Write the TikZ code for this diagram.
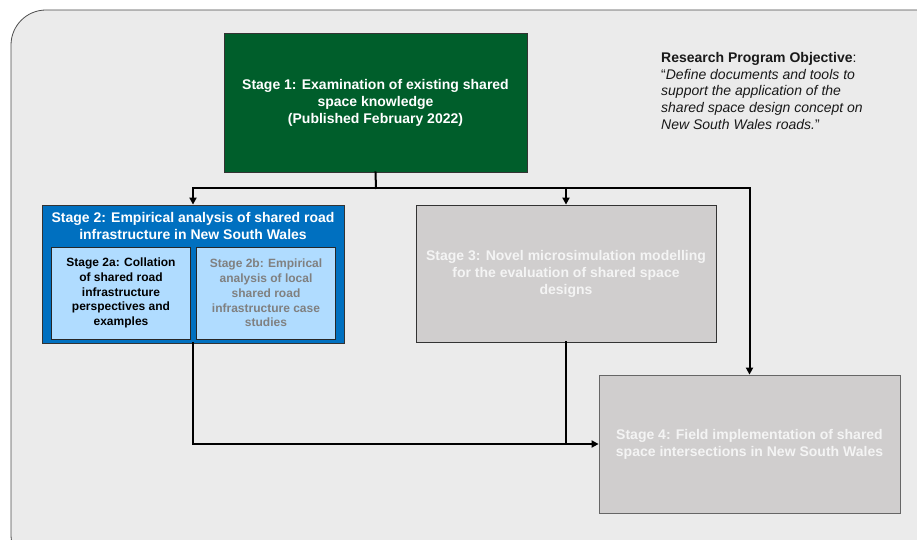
\documentclass[tikz,border=0pt]{standalone}
\usepackage{fontspec}
\setmainfont{Liberation Sans}
\usetikzlibrary{arrows.meta}
\definecolor{panelgray}{HTML}{EBEBEB}
\definecolor{stagegreen}{HTML}{005E2B}
\definecolor{stageblue}{HTML}{0070C0}
\definecolor{subblue}{HTML}{B0DCFF}
\definecolor{stagegray}{HTML}{D0CECE}
\definecolor{fadedtext}{HTML}{808080}
\definecolor{palewhite}{HTML}{F4F4F4}
\tikzset{
  stagebox/.style={draw=black!80, line width=.8pt, align=center, inner sep=0pt,
    font=\fontsize{14}{17}\selectfont\bfseries},
  subbox/.style={stagebox, draw=black!85, fill=subblue, minimum width=139pt, minimum height=92pt,
    font=\fontsize{12}{14.8}\selectfont\bfseries},
  flow/.style={line width=2pt, line cap=rect}
}
\begin{document}
\begin{tikzpicture}[x=1pt, y=-1pt, >={Triangle[length=7pt,width=7pt]}]
\clip (0,0) rectangle (917,540);
% panel
\draw[fill=panelgray, draw=black!70, line width=.8pt, rounded corners=35pt] (11,10) rectangle (950,570);

% stages
\node[stagebox, fill=stagegreen, text=white, minimum width=303pt, minimum height=139pt] (s1) at (375.5,102.5)
  {Stage 1: Examination of existing shared\\ space knowledge\\ (Published February 2022)};
\node[stagebox, fill=stageblue, draw=black!80, minimum width=302pt, minimum height=138pt] (s2) at (193,274) {};
\node[font=\fontsize{14}{17}\selectfont\bfseries, text=white, align=center, inner sep=0pt] (s2title) at (193,225.5)
  {Stage 2: Empirical analysis of shared road\\ infrastructure in New South Wales};
\node[subbox] (s2a) at (121,293)
  {Stage 2a: Collation\\ of shared road\\ infrastructure\\ perspectives and\\ examples};
\node[subbox, text=fadedtext] (s2b) at (266,293)
  {Stage 2b: Empirical\\ analysis of local\\ shared road\\ infrastructure case\\ studies};
\node[stagebox, fill=stagegray, text=palewhite, minimum width=300pt, minimum height=137pt] (s3) at (566,273.5)
  {Stage 3: Novel microsimulation modelling\\ for the evaluation of shared space\\ designs};
\node[stagebox, fill=stagegray, text=palewhite, draw=black!60, minimum width=301pt, minimum height=138pt] (s4) at (749.5,444)
  {Stage 4: Field implementation of shared\\ space intersections in New South Wales};

% objective
\node[anchor=north west, align=left, inner sep=0pt, text=black!90,
  font=\fontsize{14}{16.8}\selectfont] (obj) at (661,52)
  {\textbf{Research Program Objective}:\\
   “\textit{Define documents and tools to}\\
   \textit{support the application of the}\\
   \textit{shared space design concept on}\\
   \textit{New South Wales roads.}”};

% connectors
\coordinate (split) at (376,188);
\draw[flow] (s1.south) -- (split);
\draw[flow, ->] (split) -| (s2.north);
\draw[flow, ->] (split) -| (s3.north);
\draw[flow, ->] (split) -| (s4.north);
\draw[flow, ->] (s2.south) |- (s4.west);
\draw[flow] (s3.south) -- (s3.south |- s4.west);
\end{tikzpicture}
\end{document}
